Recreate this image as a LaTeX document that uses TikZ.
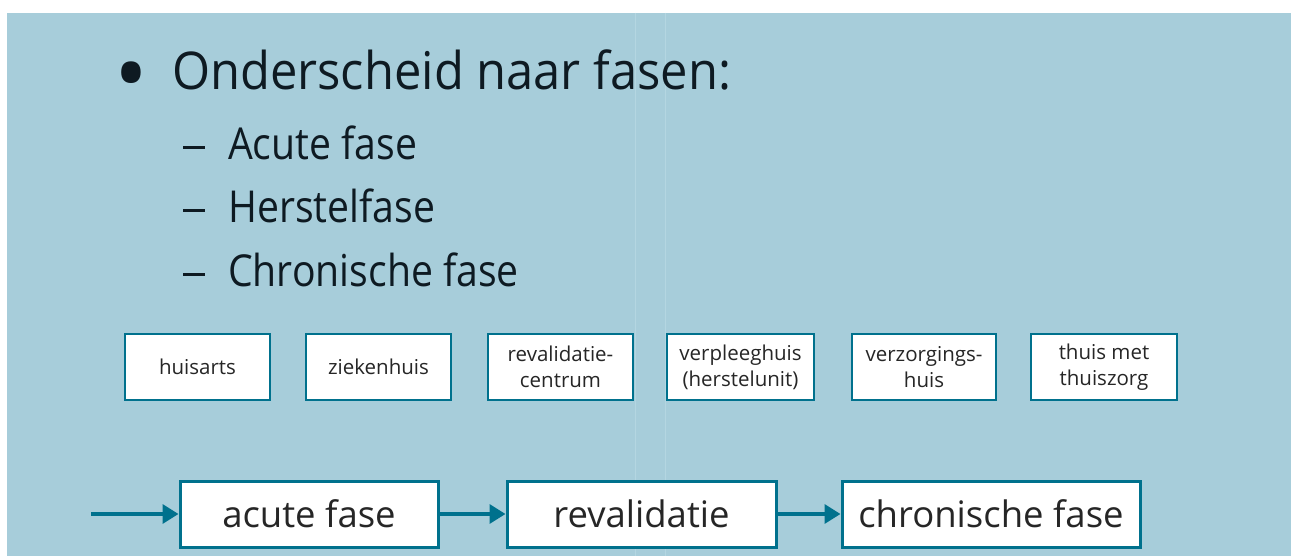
\documentclass[tikz,border=0pt]{standalone}
\usepackage{fontspec}
\setmainfont{Open Sans}
\newfontfamily\titlefont[FakeStretch=0.94]{Open Sans}
\newfontfamily\subfont[FakeStretch=0.89]{Open Sans}
\usetikzlibrary{arrows.meta}
\definecolor{bgblue}{HTML}{A7CDDA}
\definecolor{seam}{HTML}{B4D6E1}
\definecolor{teal}{HTML}{00718D}
\definecolor{ink}{HTML}{0E1A22}
\definecolor{boxink}{HTML}{262626}
\tikzset{
  smallbox/.style={draw=teal, line width=1.8pt, fill=white, minimum width=145pt, minimum height=66pt, inner sep=0pt, align=center, text=boxink, font=\fontsize{20.5}{26}\selectfont},
  bigbox/.style={draw=teal, line width=3pt, fill=white, minimum height=66pt, inner sep=0pt, text=boxink, font=\fontsize{36.5}{40}\selectfont},
  flow/.style={draw=teal, line width=3.4pt, -{Triangle[length=16pt,width=19pt]}},
  title/.style={anchor=base west, inner sep=0pt, text=ink, font=\titlefont\fontsize{52}{60}\selectfont},
  sub/.style={anchor=base west, inner sep=0pt, text=ink, font=\subfont\fontsize{44}{50}\selectfont}
}
\begin{document}
\begin{tikzpicture}[x=1pt,y=-1pt]
\useasboundingbox (0,0) rectangle (1291,556);
\fill[white] (0,0) rectangle (1291,556);
\fill[bgblue] (7,13) rectangle (1291,556);
\draw[seam, line width=1pt] (635,13) -- (635,556) (665,13) -- (665,556);
% bullet list
\node[title, font=\fontsize{90}{90}\selectfont] (bul) at (114,106) {•};
\node[title] (ttl) at (172,90) {Onderscheid naar fasen:};
\node[sub] (d1) at (183,160) {\rule[10.5pt]{22pt}{3pt}};
\node[sub] (s1) at (228,160) {Acute fase};
\node[sub] (d2) at (183,223) {\rule[10.5pt]{22pt}{3pt}};
\node[sub] (s2) at (228,223) {Herstelfase};
\node[sub] (d3) at (183,287) {\rule[10.5pt]{22pt}{3pt}};
\node[sub] (s3) at (228,287) {Chronische fase};
% small boxes
\node[smallbox] (b1) at (197.5,367) {huisarts};
\node[smallbox] (b2) at (378.5,367) {ziekenhuis};
\node[smallbox] (b3) at (560.5,367) {revalidatie-\\centrum};
\node[smallbox, minimum width=147pt] (b4) at (740.5,367) {verpleeghuis\\(herstelunit)};
\node[smallbox, minimum width=144pt] (b5) at (924,367) {verzorgings-\\huis};
\node[smallbox, minimum width=146pt] (b6) at (1104,367) {thuis met\\thuiszorg};
% flow
\coordinate (start) at (91,514);
\node[bigbox, minimum width=258pt] (f1) at (309,514) {acute fase};
\node[bigbox, minimum width=269pt] (f2) at (641.5,514) {revalidatie};
\node[bigbox, minimum width=298pt] (f3) at (991,514) {chronische fase};
\draw[flow] (start) -- (f1.west);
\draw[flow] (f1.east) -- (f2.west);
\draw[flow] (f2.east) -- (f3.west);
\end{tikzpicture}
\end{document}
